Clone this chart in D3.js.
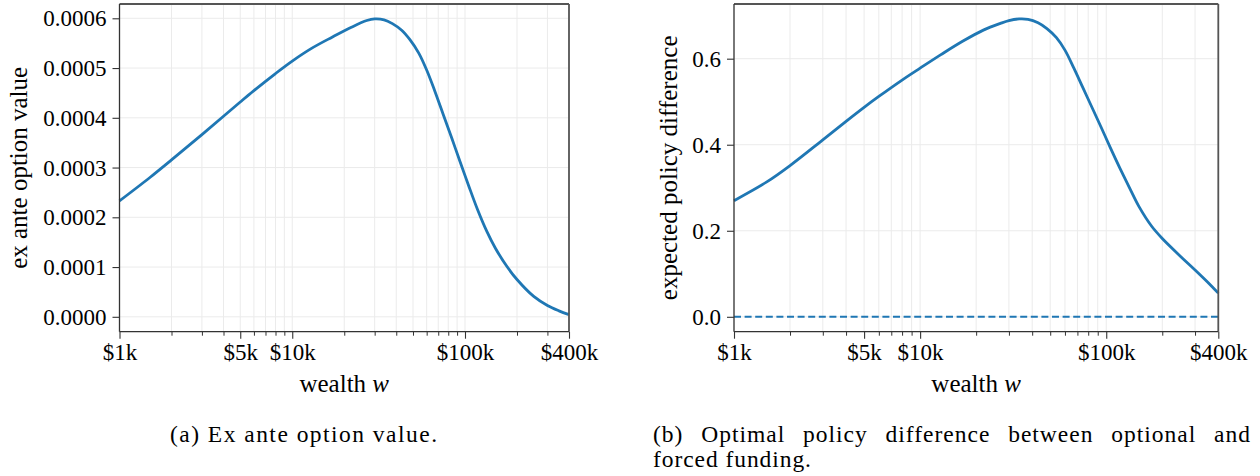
<!DOCTYPE html>
<html><head><meta charset="utf-8">
<script src="https://cdn.jsdelivr.net/npm/d3@7"></script>
<style>
body{margin:0;background:#fff}
text{fill:#000}
</style>
</head><body>
<svg id="c" width="1260" height="476"></svg>
<script>
// wealth in thousands of dollars
const wealth = [1,1.5,2,3,4,5,6,8,10,13,17,22,27,30,34,38,43,48,54,60,67,75,84,94,105,118,134,150,175,200,250,300,350,400];
// (a) ex ante option value
const optionValue = [0.0002330,0.0002800,0.0003153,0.0003663,0.0004032,0.0004318,0.0004547,0.0004890,0.0005140,0.0005400,0.0005620,0.0005820,0.0005955,0.0005988,0.0005970,0.0005893,0.0005760,0.0005570,0.0005300,0.0004960,0.0004530,0.0004057,0.0003582,0.0003102,0.0002636,0.0002162,0.0001711,0.0001378,0.0001010,0.0000749,0.0000409,0.0000227,0.0000120,0.0000045];
// (b) expected policy difference
const policyDiff = [0.270,0.3135,0.3515,0.4113,0.4544,0.4869,0.5122,0.5503,0.578,0.610,0.641,0.667,0.682,0.6885,0.6925,0.6915,0.6835,0.670,0.649,0.620,0.578,0.532,0.486,0.440,0.394,0.347,0.298,0.256,0.211,0.182,0.141,0.109,0.081,0.055];
const forcedBaseline = [0,0];
const baselineWealth = [1,400];

const xTickValues = [1,5,10,100,400];
const xTickLabels = ["$1k","$5k","$10k","$100k","$400k"];
const xMinorTicks = [2,3,4,6,7,8,9,20,30,40,50,60,70,80,90,200,300];
const leftYTicks = [0,0.0001,0.0002,0.0003,0.0004,0.0005,0.0006];
const rightYTicks = [0,0.2,0.4,0.6];

const svg = d3.select("#c");
const FF = '"Liberation Serif", serif';
const FS = 23;
const BLUE = "#1f77b4";

function fitText(sel, target){
  const w = sel.node().getComputedTextLength();
  const n = sel.text().length;
  if (n>1) sel.attr("letter-spacing", ((target - w)/(n-1)).toFixed(3));
}

function panel(cfg){
  const g = svg.append("g");
  const x = d3.scaleLog().domain([1,400]).range([cfg.x0, cfg.x1]);
  const lo = 0, hi = d3.max(cfg.values);
  const pad = 0.05*(hi-lo);
  const y = d3.scaleLinear().domain([lo-pad, hi+pad]).range([cfg.y1, cfg.y0]);

  // grid
  const grid = g.append("g");
  grid.selectAll("line.v").data(xTickValues.concat(xMinorTicks)).join("line")
    .attr("x1", d=>x(d)).attr("x2", d=>x(d)).attr("y1", cfg.y0).attr("y2", cfg.y1)
    .attr("stroke", "#ebebeb").attr("stroke-width", 1);
  grid.selectAll("line.h").data(cfg.yTicks).join("line")
    .attr("x1", cfg.x0).attr("x2", cfg.x1).attr("y1", d=>y(d)).attr("y2", d=>y(d))
    .attr("stroke", "#ebebeb").attr("stroke-width", 1);

  // x axis
  const xa = d3.axisBottom(x).tickValues(xTickValues).tickFormat((d,i)=>xTickLabels[i]).tickSize(7).tickSizeOuter(0);
  const xg = g.append("g").attr("transform", `translate(0,${cfg.y1})`).call(xa).attr("font-family", FF);
  xg.select(".domain").remove();
  xg.selectAll("line").attr("stroke", "#333").attr("stroke-width", 1.1);
  xg.selectAll("text").attr("font-size", FS).attr("font-family", FF).attr("fill","#000").attr("y", 12).attr("dy", "0.71em");
  const xm = d3.axisBottom(x).tickValues(xMinorTicks).tickFormat("").tickSize(4).tickSizeOuter(0);
  const xmg = g.append("g").attr("transform", `translate(0,${cfg.y1})`).call(xm);
  xmg.select(".domain").remove();
  xmg.selectAll("line").attr("stroke", "#333").attr("stroke-width", 1);

  // y axis
  const ya = d3.axisLeft(y).tickValues(cfg.yTicks).tickFormat(d3.format(cfg.fmt)).tickSize(7).tickSizeOuter(0);
  const yg = g.append("g").attr("transform", `translate(${cfg.x0},0)`).call(ya).attr("font-family", FF);
  yg.select(".domain").remove();
  yg.selectAll("line").attr("stroke", "#333").attr("stroke-width", 1.1);
  yg.selectAll("text").attr("font-size", FS).attr("font-family", FF).attr("fill","#000").attr("x", -13).attr("dy", "0.33em");

  // lines
  const line = d3.line().x(d=>x(d[0])).y(d=>y(d[1])).curve(d3.curveCatmullRom.alpha(0.5));
  if (cfg.baseline) {
    g.append("path").datum(d3.zip(baselineWealth, forcedBaseline)).attr("d", line)
      .attr("fill","none").attr("stroke", BLUE).attr("stroke-width", 2).attr("stroke-dasharray", "7,3.6");
  }
  g.append("path").datum(d3.zip(wealth, cfg.values)).attr("d", line)
    .attr("fill","none").attr("stroke", BLUE).attr("stroke-width", 2.8).attr("stroke-linejoin","round");

  // spines
  g.append("line").attr("x1",cfg.x0).attr("x2",cfg.x1).attr("y1",cfg.y0).attr("y2",cfg.y0).attr("stroke","#555").attr("stroke-width",1.8);
  g.append("line").attr("x1",cfg.x1).attr("x2",cfg.x1).attr("y1",cfg.y0).attr("y2",cfg.y1).attr("stroke","#555").attr("stroke-width",1.8);
  g.append("line").attr("x1",cfg.x0).attr("x2",cfg.x0).attr("y1",cfg.y0).attr("y2",cfg.y1).attr("stroke","#333").attr("stroke-width",1.3);
  g.append("line").attr("x1",cfg.x0).attr("x2",cfg.x1).attr("y1",cfg.y1).attr("y2",cfg.y1).attr("stroke","#333").attr("stroke-width",1.3);

  // labels
  const xl = g.append("text").attr("x", (cfg.x0+cfg.x1)/2).attr("y", 392).attr("text-anchor","middle").attr("font-size", 25).attr("font-family", FF);
  xl.append("tspan").text("wealth ");
  xl.append("tspan").attr("font-style","italic").text("w");
  g.append("text").attr("transform", `translate(${cfg.ylx},${(cfg.y0+cfg.y1)/2}) rotate(-90)`)
    .attr("text-anchor","middle").attr("font-size", 25).attr("font-family", FF).text(cfg.ylabel);
}

panel({x0:119.5, x1:569, y0:4, y1:331.7, values: optionValue, yTicks: leftYTicks, fmt: ".4f", ylabel: "ex ante option value", ylx: 27});
panel({x0:734, x1:1218.3, y0:4, y1:331.7, values: policyDiff, yTicks: rightYTicks, fmt: ".1f", ylabel: "expected policy difference", ylx: 677, baseline: true});

// captions
const CFS = 23.5;
const ca = svg.append("text").attr("x", 170).attr("y", 442).attr("font-size", CFS).attr("font-family", FF).text("(a) Ex ante option value.");
fitText(ca, 267);

// justified first line of caption (b)
const words = "(b) Optimal policy difference between optional and".split(" ");
const L0 = 653, L1 = 1251;
const tmp = words.map(w => svg.append("text").attr("font-size", CFS).attr("font-family", FF).attr("y", 442).text(w));
tmp.forEach(t => t.attr("letter-spacing", 1));
const widths = tmp.map(t => t.node().getComputedTextLength());
const gap = (L1 - L0 - d3.sum(widths)) / (words.length - 1);
let cx = L0;
tmp.forEach((t,i) => { t.attr("x", cx); cx += widths[i] + gap; });
const cb2 = svg.append("text").attr("x", L0).attr("y", 467).attr("font-size", CFS).attr("font-family", FF).text("forced funding.");
fitText(cb2, 158);
</script>
</body></html>
